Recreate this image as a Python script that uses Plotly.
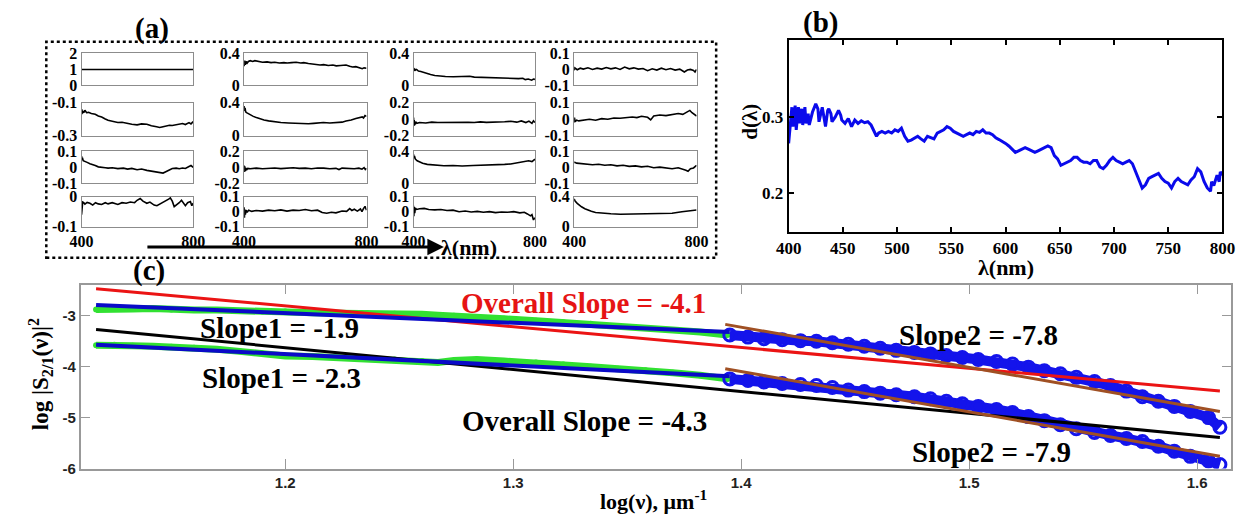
import plotly.graph_objects as go

W, H = 1258, 524
def px(x): return x / W
def py(y): return 1 - y / H

SERIF = "Liberation Serif"
SANS = "Liberation Sans"

# ---------------- panel (a) data: 4x4 small plots (nm, value) ----------------
a11_nm = [400, 800]
a11_v = [1, 1]
a12_nm = [400, 402, 404, 407, 410, 414, 420, 428, 435, 445, 460, 475, 488, 500, 515, 530, 541, 555, 570, 585, 595, 610, 625, 640, 648, 660, 675, 690, 701, 715, 733, 745, 754, 765, 775, 786, 792, 800]
a12_v = [0.24, 0.31, 0.26, 0.30, 0.28, 0.30, 0.31, 0.30, 0.31, 0.30, 0.29, 0.295, 0.285, 0.29, 0.28, 0.285, 0.28, 0.285, 0.29, 0.28, 0.285, 0.275, 0.265, 0.26, 0.255, 0.26, 0.25, 0.255, 0.245, 0.25, 0.255, 0.24, 0.23, 0.235, 0.22, 0.21, 0.22, 0.215]
a13_nm = [400, 401, 403, 406, 410, 416, 424, 435, 445, 456, 470, 488, 505, 531, 550, 570, 585, 600, 628, 650, 671, 690, 714, 730, 746, 760, 768, 778, 789, 795, 800]
a13_v = [0.22, 0.18, 0.21, 0.19, 0.2, 0.18, 0.175, 0.16, 0.145, 0.136, 0.125, 0.116, 0.112, 0.108, 0.11, 0.105, 0.115, 0.104, 0.1, 0.098, 0.092, 0.095, 0.088, 0.09, 0.085, 0.09, 0.072, 0.08, 0.066, 0.08, 0.075]
a14_nm = [400, 402, 410, 420, 430, 445, 460, 475, 490, 505, 520, 535, 550, 565, 580, 595, 610, 625, 640, 655, 670, 685, 700, 715, 730, 745, 755, 760, 770, 780, 790, 795, 800]
a14_v = [-0.005, 0.01, -0.002, 0.008, 0.002, 0.01, 0.0, 0.008, 0.002, 0.012, 0.004, 0.01, 0.0, 0.015, 0.004, 0.01, 0.002, 0.006, -0.008, 0.004, -0.004, 0.008, -0.002, 0.006, -0.004, 0.002, -0.01, -0.016, -0.004, 0.0, -0.006, -0.016, 0.0]
a21_nm = [400, 401, 403, 405, 408, 412, 418, 425, 435, 449, 460, 472, 485, 495, 510, 530, 545, 565, 580, 599, 615, 634, 650, 669, 680, 692, 705, 715, 725, 739, 750, 762, 772, 785, 792, 800]
a21_v = [-0.17, -0.14, -0.165, -0.15, -0.16, -0.145, -0.16, -0.158, -0.165, -0.17, -0.18, -0.186, -0.198, -0.206, -0.212, -0.22, -0.218, -0.226, -0.23, -0.234, -0.228, -0.23, -0.24, -0.246, -0.25, -0.245, -0.24, -0.236, -0.238, -0.234, -0.23, -0.226, -0.232, -0.22, -0.228, -0.214]
a22_nm = [400, 401, 403, 405, 408, 412, 420, 430, 440, 450, 465, 480, 500, 520, 545, 570, 595, 610, 627, 659, 680, 701, 720, 733, 750, 765, 775, 786, 790, 795, 800]
a22_v = [0.36, 0.30, 0.34, 0.29, 0.28, 0.27, 0.25, 0.235, 0.22, 0.205, 0.19, 0.18, 0.168, 0.16, 0.155, 0.15, 0.14, 0.145, 0.15, 0.16, 0.155, 0.16, 0.165, 0.18, 0.19, 0.21, 0.215, 0.228, 0.215, 0.245, 0.235]
a23_nm = [400, 401, 402, 404, 407, 411, 420, 440, 460, 480, 500, 520, 540, 560, 580, 600, 620, 640, 660, 680, 700, 720, 740, 755, 770, 780, 790, 795, 800]
a23_v = [0.02, -0.08, -0.01, -0.07, -0.03, -0.05, -0.04, -0.045, -0.035, -0.04, -0.038, -0.042, -0.035, -0.04, -0.036, -0.04, -0.032, -0.038, -0.035, -0.04, -0.03, -0.025, -0.035, -0.02, -0.04, -0.022, -0.05, -0.02, -0.04]
a24_nm = [400, 401, 403, 408, 415, 430, 450, 470, 490, 510, 530, 550, 570, 590, 605, 620, 640, 650, 660, 680, 700, 720, 740, 755, 770, 778, 785, 792, 800]
a24_v = [-0.02, 0.01, -0.015, -0.005, -0.01, -0.004, 0.0, -0.006, 0.004, 0.0, 0.008, 0.006, 0.01, 0.014, 0.01, 0.018, 0.012, -0.004, 0.02, 0.026, 0.022, 0.03, 0.035, 0.03, 0.045, 0.054, 0.04, 0.03, 0.02]
a31_nm = [400, 401, 403, 406, 412, 420, 430, 440, 449, 460, 472, 485, 495, 510, 530, 550, 565, 580, 599, 615, 634, 650, 669, 680, 692, 700, 708, 715, 725, 739, 750, 762, 772, 785, 792, 800]
a31_v = [0.07, 0.045, 0.06, 0.04, 0.037, 0.03, 0.022, 0.018, 0.01, 0.002, 0.001, -0.004, -0.006, -0.004, -0.009, -0.006, -0.012, -0.008, -0.016, -0.012, -0.02, -0.024, -0.028, -0.034, -0.037, -0.03, -0.022, -0.018, -0.008, -0.006, -0.01, -0.005, -0.008, 0.004, 0.01, -0.002]
a32_nm = [400, 401, 402, 404, 406, 408, 412, 420, 440, 460, 480, 500, 520, 540, 560, 580, 600, 620, 640, 660, 680, 700, 710, 720, 740, 760, 775, 785, 792, 796, 800]
a32_v = [0.02, -0.06, 0.01, -0.05, -0.01, -0.035, -0.015, -0.02, -0.012, -0.02, -0.015, -0.01, -0.018, -0.012, -0.008, -0.015, -0.012, -0.02, -0.01, -0.012, -0.02, -0.015, -0.03, -0.012, -0.015, -0.02, -0.012, -0.025, -0.005, -0.03, -0.015]
a33_nm = [400, 401, 403, 406, 412, 420, 430, 445, 460, 480, 500, 530, 560, 596, 620, 650, 682, 700, 720, 736, 750, 765, 779, 790, 800]
a33_v = [0.36, 0.31, 0.34, 0.3, 0.28, 0.265, 0.25, 0.235, 0.228, 0.222, 0.218, 0.22, 0.215, 0.22, 0.222, 0.225, 0.228, 0.235, 0.24, 0.252, 0.255, 0.268, 0.28, 0.27, 0.3]
a34_nm = [400, 402, 408, 420, 440, 460, 480, 500, 520, 540, 560, 580, 600, 620, 640, 660, 680, 700, 720, 740, 755, 765, 772, 780, 790, 800]
a34_v = [0.03, 0.03, 0.025, 0.022, 0.02, 0.015, 0.018, 0.012, 0.015, 0.008, 0.012, 0.005, 0.008, 0.002, 0.006, -0.004, 0.0, -0.006, -0.01, -0.004, -0.012, -0.02, -0.026, -0.01, -0.005, 0.012]
a41_nm = [400, 401, 402, 404, 408, 412, 420, 430, 440, 450, 460, 472, 485, 495, 510, 530, 545, 560, 575, 590, 599, 610, 620, 634, 645, 660, 670, 680, 692, 700, 712, 718, 725, 732, 740, 750, 758, 765, 772, 780, 790, 795, 800]
a41_v = [-0.06, -0.03, -0.045, -0.018, -0.02, -0.025, -0.019, -0.022, -0.028, -0.02, -0.024, -0.026, -0.02, -0.024, -0.02, -0.026, -0.02, -0.022, -0.018, -0.02, -0.012, -0.006, -0.015, -0.022, -0.018, -0.028, -0.03, -0.025, -0.02, -0.016, -0.008, -0.004, -0.015, -0.033, -0.028, -0.02, -0.012, -0.02, -0.03, -0.02, -0.016, -0.03, -0.022]
a42_nm = [400, 401, 402, 404, 407, 410, 415, 425, 440, 460, 480, 500, 520, 540, 560, 580, 600, 620, 640, 655, 670, 685, 700, 720, 735, 745, 752, 760, 770, 780, 785, 790, 795, 800]
a42_v = [0.03, -0.04, 0.015, -0.02, 0.01, -0.005, 0.01, 0.002, 0.008, 0.004, 0.01, 0.006, 0.012, 0.004, 0.01, 0.008, 0.014, 0.006, 0.01, -0.006, -0.01, -0.004, -0.008, 0.004, 0.002, 0.02, 0.008, 0.016, 0.004, 0.018, 0.0, 0.02, 0.035, 0.01]
a43_nm = [400, 401, 402, 404, 406, 410, 420, 435, 450, 470, 490, 510, 530, 550, 570, 590, 610, 630, 650, 670, 690, 710, 730, 750, 765, 775, 785, 790, 795, 800]
a43_v = [0.04, -0.03, 0.03, -0.01, 0.025, 0.015, 0.02, 0.022, 0.015, 0.012, 0.014, 0.008, 0.01, 0.0, 0.004, -0.002, 0.002, -0.004, 0.0, -0.006, -0.002, -0.004, 0.0, -0.008, -0.004, -0.015, -0.028, -0.02, -0.055, -0.04]
a44_nm = [400, 403, 410, 418, 424, 435, 445, 456, 470, 485, 498, 520, 551, 580, 610, 640, 670, 700, 720, 752, 770, 785, 800]
a44_v = [0.37, 0.34, 0.31, 0.28, 0.265, 0.24, 0.22, 0.205, 0.19, 0.182, 0.178, 0.172, 0.166, 0.168, 0.165, 0.17, 0.166, 0.172, 0.178, 0.2, 0.208, 0.215, 0.222]

a_ranges = {  # (row, col): (y range, y tick values)
    (1, 1): ([0, 2], [0, 1, 2]),
    (1, 2): ([0, 0.4], [0, 0.4]),
    (1, 3): ([0, 0.4], [0, 0.4]),
    (1, 4): ([-0.1, 0.1], [-0.1, 0, 0.1]),
    (2, 1): ([-0.3, -0.1], [-0.3, -0.1]),
    (2, 2): ([0, 0.4], [0, 0.4]),
    (2, 3): ([-0.2, 0.2], [-0.2, 0, 0.2]),
    (2, 4): ([-0.1, 0.1], [-0.1, 0, 0.1]),
    (3, 1): ([-0.1, 0.1], [-0.1, 0, 0.1]),
    (3, 2): ([-0.2, 0.2], [-0.2, 0, 0.2]),
    (3, 3): ([0, 0.4], [0, 0.4]),
    (3, 4): ([-0.1, 0.1], [-0.1, 0, 0.1]),
    (4, 1): ([-0.1, 0], [-0.1, 0]),
    (4, 2): ([-0.1, 0.1], [-0.1, 0, 0.1]),
    (4, 3): ([-0.1, 0.1], [-0.1, 0, 0.1]),
    (4, 4): ([0, 0.4], [0, 0.4]),
}
a_series = {
    (1, 1): (a11_nm, a11_v), (1, 2): (a12_nm, a12_v), (1, 3): (a13_nm, a13_v), (1, 4): (a14_nm, a14_v),
    (2, 1): (a21_nm, a21_v), (2, 2): (a22_nm, a22_v), (2, 3): (a23_nm, a23_v), (2, 4): (a24_nm, a24_v),
    (3, 1): (a31_nm, a31_v), (3, 2): (a32_nm, a32_v), (3, 3): (a33_nm, a33_v), (3, 4): (a34_nm, a34_v),
    (4, 1): (a41_nm, a41_v), (4, 2): (a42_nm, a42_v), (4, 3): (a43_nm, a43_v), (4, 4): (a44_nm, a44_v),
}
a_xticks = [400, 800]

# ---------------- panel (b) data ----------------
b_nm = [400, 401, 403, 404, 406, 407, 409, 410, 412, 413, 415, 416, 418, 419, 422, 425, 427, 428, 430, 431,
        433, 434, 436, 437, 439, 440, 443, 446, 448, 449, 452, 455, 458, 461, 464, 467, 470, 473, 476, 480,
        481, 483, 486, 489, 492, 495, 498, 501, 504, 507, 510, 513, 516, 519, 522, 525, 528, 531, 534, 537,
        540, 543, 546, 549, 552, 555, 558, 561, 564, 567, 570, 573, 576, 579, 582, 585, 588, 591, 594, 597,
        600, 603, 606, 609, 612, 615, 618, 621, 624, 627, 630, 633, 636, 639, 642, 645, 648, 651, 654, 657,
        660, 663, 666, 669, 672, 675, 678, 681, 684, 687, 690, 693, 696, 699, 702, 705, 708, 711, 714, 717,
        720, 723, 726, 729, 732, 735, 738, 741, 744, 747, 750, 753, 756, 759, 762, 765, 768, 771, 774, 777,
        780, 783, 786, 789, 790, 792, 795, 797, 798, 800]
b_d = [0.265, 0.2785, 0.3122, 0.2869, 0.3143, 0.2827, 0.3122, 0.2911, 0.3101, 0.2890, 0.3122, 0.2911, 0.3038, 0.2890, 0.3059, 0.3165, 0.3101, 0.2932, 0.3080, 0.3122,
       0.2954, 0.2869, 0.3080, 0.3101, 0.3038, 0.2932, 0.2996, 0.3080, 0.3017, 0.2954, 0.2911, 0.2975, 0.2869, 0.2954, 0.2911, 0.2945, 0.2920, 0.2932, 0.2890, 0.2785,
       0.2743, 0.2785, 0.2806, 0.2785, 0.2806, 0.2785, 0.2827, 0.2806, 0.2848, 0.2743, 0.2679, 0.2692, 0.2722, 0.2743, 0.2709, 0.2679, 0.2743, 0.2722, 0.2709, 0.2785,
       0.2806, 0.2827, 0.2869, 0.2848, 0.2806, 0.2785, 0.2764, 0.2743, 0.2764, 0.2785, 0.2764, 0.2806, 0.2793, 0.2827, 0.2785, 0.2785, 0.2764, 0.2722, 0.2700, 0.2679,
       0.2650, 0.2616, 0.2574, 0.2532, 0.2553, 0.2574, 0.2595, 0.2574, 0.2553, 0.2532, 0.2553, 0.2574, 0.2595, 0.2616, 0.2595, 0.2490, 0.2447, 0.2363, 0.2384, 0.2405,
       0.2426, 0.2468, 0.2468, 0.2426, 0.2405, 0.2405, 0.2384, 0.2426, 0.2426, 0.2342, 0.2320, 0.2363, 0.2426, 0.2468, 0.2426, 0.2405, 0.2384, 0.2405, 0.2426, 0.2384,
       0.2278, 0.2152, 0.2068, 0.2110, 0.2194, 0.2215, 0.2236, 0.2257, 0.2194, 0.2152, 0.2131, 0.2068, 0.2152, 0.2194, 0.2152, 0.2131, 0.2110, 0.2173, 0.2215, 0.2320,
       0.2278, 0.2152, 0.2068, 0.2025, 0.2150, 0.2100, 0.2236, 0.2150, 0.2278, 0.2236]
b_xticks = [400, 450, 500, 550, 600, 650, 700, 750, 800]
b_yticks = [0.2, 0.3]

# ---------------- panel (c) data ----------------
c_green_x = [1.117, 1.125, 1.133, 1.142, 1.150, 1.160, 1.170, 1.180, 1.190, 1.200, 1.212, 1.224, 1.236, 1.248,
             1.260, 1.267, 1.274, 1.284, 1.296, 1.310, 1.322, 1.334, 1.346, 1.358, 1.370, 1.382, 1.394]
c_green_up = [-2.88, -2.86, -2.87, -2.86, -2.88, -2.89, -2.89, -2.91, -2.92, -2.92, -2.94, -2.95, -2.95, -2.96,
              -2.97, -2.99, -3.00, -3.03, -3.06, -3.10, -3.13, -3.16, -3.20, -3.24, -3.28, -3.32, -3.38]
c_green_lo = [-3.58, -3.57, -3.59, -3.60, -3.61, -3.63, -3.66, -3.70, -3.74, -3.79, -3.80, -3.83, -3.85, -3.86,
              -3.89, -3.92, -3.88, -3.86, -3.89, -3.92, -3.96, -4.00, -4.04, -4.07, -4.12, -4.17, -4.24]
c_circ_x = [1.395, 1.403, 1.410, 1.418, 1.426, 1.433, 1.440, 1.447, 1.454, 1.461, 1.468, 1.476, 1.483, 1.490,
            1.497, 1.504, 1.512, 1.519, 1.526, 1.533, 1.540, 1.547, 1.555, 1.562, 1.569, 1.576, 1.583, 1.590,
            1.597, 1.605, 1.610]
c_circ_up = [-3.38, -3.42, -3.45, -3.47, -3.49, -3.50, -3.53, -3.56, -3.60, -3.64, -3.68, -3.72, -3.75, -3.78,
             -3.82, -3.86, -3.90, -3.95, -4.01, -4.08, -4.14, -4.21, -4.29, -4.37, -4.48, -4.59, -4.68, -4.78,
             -4.88, -5.00, -5.19]
c_circ_lo = [-4.24, -4.27, -4.30, -4.33, -4.35, -4.37, -4.41, -4.46, -4.49, -4.52, -4.55, -4.59, -4.63, -4.68,
             -4.73, -4.78, -4.84, -4.90, -4.98, -5.06, -5.14, -5.22, -5.29, -5.35, -5.41, -5.47, -5.56, -5.66,
             -5.76, -5.85, -5.92]
c_fit_red_x, c_fit_red_y = [1.117, 1.61], [-2.47, -4.48]
c_fit_black_x, c_fit_black_y = [1.117, 1.61], [-3.27, -5.39]
c_fit_blue_up_x, c_fit_blue_up_y = [1.117, 1.395], [-2.79, -3.32]
c_fit_blue_lo_x, c_fit_blue_lo_y = [1.117, 1.395], [-3.57, -4.19]
c_fit_brown_up_x, c_fit_brown_up_y = [1.393, 1.61], [-3.17, -4.88]
c_fit_brown_lo_x, c_fit_brown_lo_y = [1.393, 1.61], [-4.04, -5.76]
c_xticks = [1.2, 1.3, 1.4, 1.5, 1.6]
c_yticks = [-6, -5, -4, -3]
c_labels = ["Overall Slope = -4.1", "Slope1 = -1.9", "Slope1 = -2.3",
            "Overall Slope = -4.3", "Slope2 = -7.8", "Slope2 = -7.9"]

# ---------------- build figure ----------------
fig = go.Figure()
layout = {}

A_COL_PX = [(70, 184), (236, 361), (409, 533), (573, 698)]
A_ROW_PX = [(47, 80), (98, 132), (148, 181), (195, 226)]

n = 0
for r in range(1, 5):
    for c in range(1, 5):
        n += 1
        xs, ys = a_series[(r, c)]
        yr, yt = a_ranges[(r, c)]
        fig.add_trace(go.Scatter(x=xs, y=ys, mode="lines", line=dict(color="black", width=1.6),
                                 xaxis=f"x{n}", yaxis=f"y{n}", showlegend=False, hoverinfo="skip"))
        x0, x1 = A_COL_PX[c - 1]
        y0, y1 = A_ROW_PX[r - 1]
        layout[f"xaxis{n}"] = dict(domain=[px(x0), px(x1)], anchor=f"y{n}", range=[400, 800],
                                   showline=True, mirror=True, linecolor="#8c8c8c", linewidth=1.3,
                                   showgrid=False, zeroline=False, ticks="",
                                   tickvals=a_xticks, ticktext=[str(v) for v in a_xticks],
                                   showticklabels=(r == 4),
                                   tickfont=dict(family=SERIF, size=16, color="black", weight="bold"))
        layout[f"yaxis{n}"] = dict(domain=[py(y1), py(y0)], anchor=f"x{n}", range=yr,
                                   showline=True, mirror=True, linecolor="#8c8c8c", linewidth=1.3,
                                   showgrid=False, zeroline=False, ticks="",
                                   tickvals=yt, ticktext=[f"{v:g}" for v in yt],
                                   tickfont=dict(family=SERIF, size=16, color="black", weight="bold"))

# panel (b)
fig.add_trace(go.Scatter(x=b_nm, y=b_d, mode="lines", line=dict(color="rgb(10,10,235)", width=3),
                         xaxis="x17", yaxis="y17", showlegend=False, hoverinfo="skip"))
layout["xaxis17"] = dict(domain=[px(792), px(1235)], anchor="y17", range=[400, 800],
                         showline=True, mirror="ticks", linecolor="black", linewidth=2,
                         ticks="inside", ticklen=5, tickwidth=2, tickcolor="black",
                         showgrid=False, zeroline=False, tickvals=b_xticks,
                         ticktext=[str(v) for v in b_xticks],
                         tickfont=dict(family=SERIF, size=17, color="black", weight="bold"))
layout["yaxis17"] = dict(domain=[py(231), py(33)], anchor="x17", range=[0.15, 0.4],
                         showline=True, mirror="ticks", linecolor="black", linewidth=2,
                         ticks="inside", ticklen=5, tickwidth=2, tickcolor="black",
                         showgrid=False, zeroline=False, tickvals=b_yticks,
                         ticktext=[f"{v:g}" for v in b_yticks],
                         tickfont=dict(family=SERIF, size=17, color="black", weight="bold"))

# panel (c)
def add_c(x, y, **kw):
    fig.add_trace(go.Scatter(x=x, y=y, xaxis="x18", yaxis="y18", showlegend=False, hoverinfo="skip", **kw))

add_c(c_green_x, c_green_up, mode="lines+markers", line=dict(color="rgb(50,225,50)", width=7),
      marker=dict(size=6, color="rgb(50,225,50)"))
add_c(c_green_x, c_green_lo, mode="lines+markers", line=dict(color="rgb(50,225,50)", width=7),
      marker=dict(size=6, color="rgb(50,225,50)"))
for cy in (c_circ_up, c_circ_lo):
    add_c(c_circ_x, cy, mode="lines+markers", line=dict(color="rgb(20,20,235)", width=10),
          marker=dict(symbol="circle-open", size=12, color="rgb(20,20,235)", line=dict(width=3)))
add_c(c_fit_red_x, c_fit_red_y, mode="lines", line=dict(color="rgb(235,20,20)", width=3))
add_c(c_fit_black_x, c_fit_black_y, mode="lines", line=dict(color="black", width=3))
add_c(c_fit_blue_up_x, c_fit_blue_up_y, mode="lines", line=dict(color="rgb(10,10,200)", width=4))
add_c(c_fit_blue_lo_x, c_fit_blue_lo_y, mode="lines", line=dict(color="rgb(10,10,200)", width=4))
add_c(c_fit_brown_up_x, c_fit_brown_up_y, mode="lines", line=dict(color="rgb(160,80,35)", width=3))
add_c(c_fit_brown_lo_x, c_fit_brown_lo_y, mode="lines", line=dict(color="rgb(160,80,35)", width=3))

layout["xaxis18"] = dict(domain=[px(69), px(1244)], anchor="y18", range=[1.1102, 1.615],
                         showline=True, mirror="ticks", linecolor="#999999", linewidth=1.5,
                         ticks="inside", ticklen=10, tickwidth=1.3, tickcolor="#999999",
                         showgrid=False, zeroline=False, tickvals=c_xticks,
                         ticktext=[f"{v:g}" for v in c_xticks],
                         tickfont=dict(family=SANS, size=15, color="#222", weight="bold"))
layout["yaxis18"] = dict(domain=[py(476), py(286)], anchor="x18", range=[-6, -2.392],
                         showline=True, mirror="ticks", linecolor="#999999", linewidth=1.5,
                         ticks="inside", ticklen=10, tickwidth=1.3, tickcolor="#999999",
                         showgrid=False, zeroline=False, tickvals=c_yticks,
                         ticktext=[f"{v:g}" for v in c_yticks],
                         tickfont=dict(family=SANS, size=15, color="#222", weight="bold"))

def txt(x, y, s, size, color="black", angle=0, family=SERIF):
    return dict(x=px(x), y=py(y), xref="paper", yref="paper", text=s, showarrow=False,
                xanchor="center", yanchor="middle", textangle=angle,
                font=dict(family=family, size=size, color=color, weight="bold"))

annotations = [
    txt(142, 21, "(a)", 29),
    txt(825, 15, "(b)", 29),
    txt(139, 271, "(c)", 29),
    txt(466, 248, "λ(nm)", 22),
    txt(1014, 268, "λ(nm)", 22),
    txt(753, 117, "d(λ)", 21, angle=-90),
    txt(28, 378, "log |S<sub>2/1</sub>(ν)|<sup>2</sup>", 23, angle=-90),
    txt(654, 508, "log(ν), μm<sup>-1</sup>", 22),
    txt(583, 305, c_labels[0], 29, color="rgb(230,20,20)"),
    txt(272, 331, c_labels[1], 29),
    txt(274, 382, c_labels[2], 29),
    txt(584, 427, c_labels[3], 29),
    txt(986, 338, c_labels[4], 29),
    txt(999, 459, c_labels[5], 29),
    dict(x=px(440), y=py(247), xref="paper", yref="paper", ax=-298, ay=0,
         axref="pixel", ayref="pixel", text="", showarrow=True, arrowhead=2,
         arrowsize=1.1, arrowwidth=3, arrowcolor="black"),
]

shapes = [dict(type="rect", xref="paper", yref="paper", x0=px(34), x1=px(718), y0=py(258), y1=py(35),
               line=dict(color="black", width=2.5, dash="dot"))]

fig.update_layout(width=W, height=H, margin=dict(l=0, r=0, t=0, b=0),
                  paper_bgcolor="white", plot_bgcolor="white",
                  annotations=annotations, shapes=shapes, **layout)

fig.write_html("out.html")
